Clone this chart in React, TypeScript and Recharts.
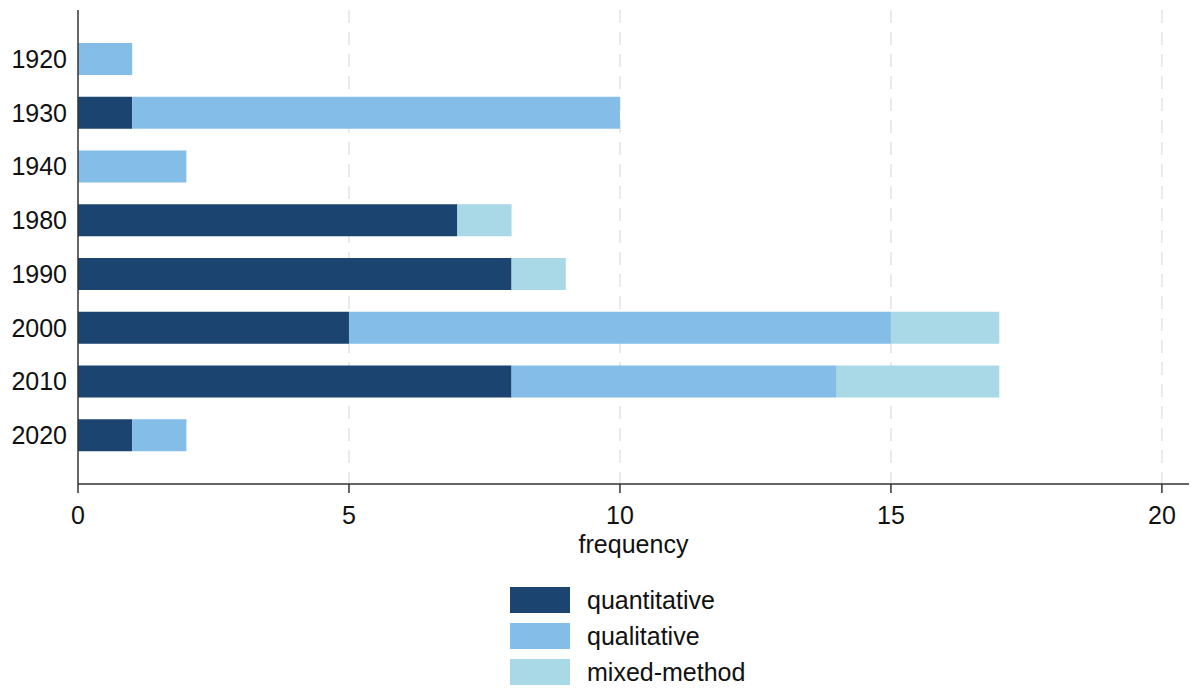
import React from 'react';
import { BarChart, Bar, XAxis, YAxis, CartesianGrid, Legend } from 'recharts';

const decades = ['1920', '1930', '1940', '1980', '1990', '2000', '2010', '2020'];
const quantitative = [0, 1, 0, 7, 8, 5, 8, 1];
const qualitative = [1, 9, 2, 0, 0, 10, 6, 1];
const mixedMethod = [0, 0, 0, 1, 1, 2, 3, 0];
const xTicks = [0, 5, 10, 15, 20];
const gridTicks = [5, 10, 15, 20];
const xDomain: [number, number] = [0, 20.5];

const series = [
  { key: 'quantitative', label: 'quantitative', color: '#1b4570' },
  { key: 'qualitative', label: 'qualitative', color: '#84bee8' },
  { key: 'mixed', label: 'mixed-method', color: '#a9d8e7' },
];

const data = decades.map((d, i) => ({
  decade: d,
  quantitative: quantitative[i],
  qualitative: qualitative[i],
  mixed: mixedMethod[i],
}));

const FONT = '"Liberation Sans", Arial, sans-serif';

const LegendContent = () => (
  <div style={{ fontFamily: FONT }}>
    {series.map((s) => (
      <div key={s.key} style={{ display: 'flex', alignItems: 'center', height: 36 }}>
        <div style={{ width: 60, height: 26, background: s.color, marginRight: 17 }} />
        <span style={{ fontSize: 25, color: '#111', lineHeight: '26px' }}>{s.label}</span>
      </div>
    ))}
  </div>
);

const verticalGen = (props: any) => {
  const s = props?.xAxis?.scale;
  if (typeof s === 'function') return gridTicks.map((t) => s(t));
  if (s && typeof s.map === 'function') return gridTicks.map((t) => s.map(t));
  const off = props?.offset || {};
  const left = off.left ?? 0;
  const width = off.width ?? 0;
  return gridTicks.map((t) => left + ((t - xDomain[0]) / (xDomain[1] - xDomain[0])) * width);
};

export default function App() {
  return (
    <div style={{ position: 'absolute', left: 0, top: 0, width: 1200, height: 696, background: '#fff' }}>
      <BarChart
        width={1200}
        height={696}
        data={data}
        layout="vertical"
        margin={{ top: 10, right: 11, bottom: 132, left: 0 }}
        barSize={32}
      >
        <CartesianGrid
          horizontal={false}
          stroke="#e4e4e4"
          strokeDasharray="13 9"
          strokeWidth={1.5}
          verticalCoordinatesGenerator={verticalGen}
        />
        <XAxis
          type="number"
          domain={xDomain}
          ticks={xTicks}
          allowDataOverflow
          height={80}
          tickSize={9}
          tickMargin={13}
          axisLine={{ stroke: '#333', strokeWidth: 1.5 }}
          tickLine={{ stroke: '#333', strokeWidth: 1.5 }}
          tick={{ fontSize: 25, fill: '#111', fontFamily: FONT }}
          label={{ value: 'frequency', position: 'insideBottom', offset: 11, fontSize: 25, fill: '#111', fontFamily: FONT }}
        />
        <YAxis
          type="category"
          dataKey="decade"
          width={78}
          padding={{ top: 22, bottom: 22 }}
          tickSize={0}
          tickMargin={11}
          axisLine={{ stroke: '#333', strokeWidth: 1.5 }}
          tickLine={false}
          tick={{ fontSize: 25, fill: '#111', fontFamily: FONT }}
        />
        <Legend
          layout="vertical"
          verticalAlign="middle"
          align="center"
          content={<LegendContent />}
          wrapperStyle={{ position: 'absolute', top: 582, left: 510, width: 300, height: 108 }}
        />
        {series.map((s) => (
          <Bar
            key={s.key}
            dataKey={s.key}
            name={s.label}
            stackId="a"
            fill={s.color}
            isAnimationActive={false}
          />
        ))}
      </BarChart>
    </div>
  );
}
